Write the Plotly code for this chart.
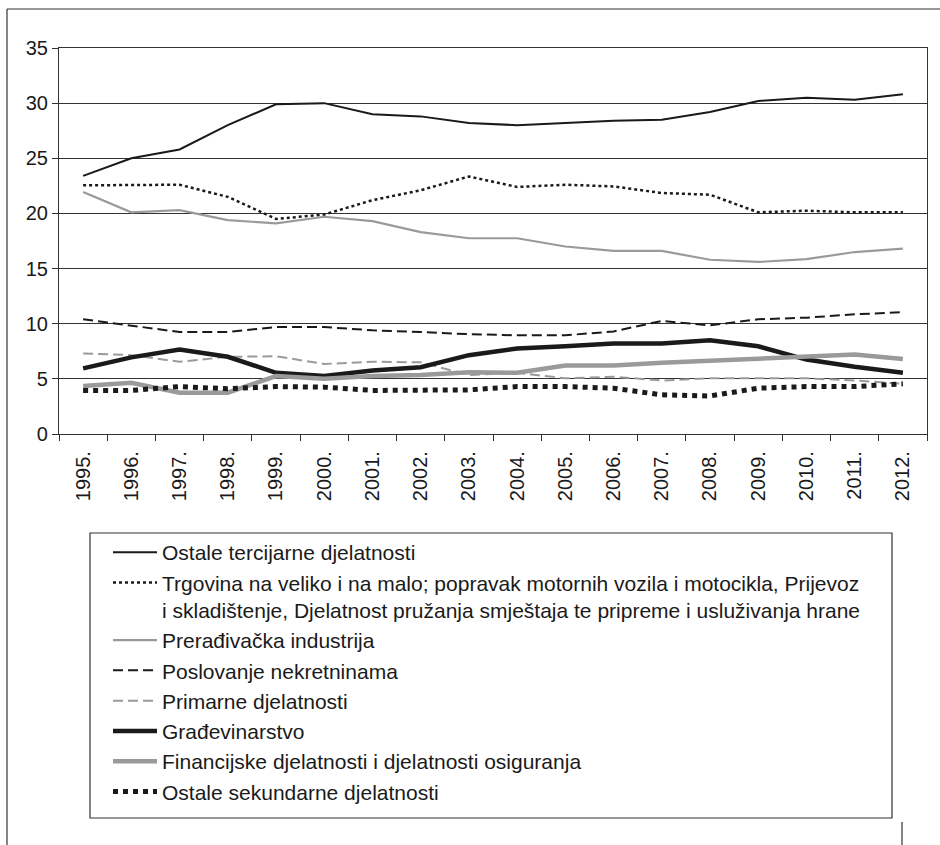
import plotly.graph_objects as go

# Category labels (years)
years = ["1995.", "1996.", "1997.", "1998.", "1999.", "2000.", "2001.", "2002.", "2003.",
         "2004.", "2005.", "2006.", "2007.", "2008.", "2009.", "2010.", "2011.", "2012."]

# Series values (share, %)
ostale_tercijarne = [23.4, 25.0, 25.8, 28.0, 29.9, 30.0, 29.0, 28.8, 28.2, 28.0, 28.2, 28.4,
                     28.5, 29.2, 30.2, 30.5, 30.3, 30.8]
trgovina = [22.55, 22.55, 22.6, 21.5, 19.5, 19.9, 21.2, 22.1, 23.35, 22.4, 22.6, 22.45,
            21.85, 21.7, 20.1, 20.25, 20.1, 20.1]
preradivacka = [21.95, 20.1, 20.3, 19.4, 19.1, 19.7, 19.3, 18.3, 17.75, 17.75, 17.0, 16.6,
                16.6, 15.8, 15.6, 15.85, 16.5, 16.8]
poslovanje = [10.4, 9.85, 9.25, 9.25, 9.7, 9.7, 9.4, 9.25, 9.05, 8.95, 8.95, 9.3,
              10.25, 9.85, 10.4, 10.55, 10.85, 11.05]
primarne = [7.3, 7.15, 6.55, 7.0, 7.05, 6.35, 6.55, 6.5, 5.35, 5.55, 5.05, 5.2,
            4.85, 5.05, 5.05, 5.05, 4.85, 4.55]
gradevinarstvo = [5.95, 6.95, 7.65, 7.0, 5.55, 5.25, 5.75, 6.05, 7.15, 7.75, 7.95, 8.2,
                  8.2, 8.5, 7.95, 6.75, 6.1, 5.55]
financijske = [4.35, 4.65, 3.75, 3.75, 5.25, 5.0, 5.25, 5.35, 5.6, 5.55, 6.2, 6.2,
               6.45, 6.65, 6.85, 7.05, 7.2, 6.8]
ostale_sekundarne = [3.95, 3.95, 4.3, 4.1, 4.3, 4.25, 3.95, 3.95, 4.0, 4.3, 4.3, 4.15,
                     3.55, 3.45, 4.15, 4.3, 4.3, 4.55]

names = [
    "Ostale tercijarne djelatnosti",
    "Trgovina na veliko i na malo; popravak motornih vozila i motocikla, Prijevoz<br>"
    "i skladištenje, Djelatnost pružanja smještaja te pripreme i usluživanja hrane",
    "Prerađivačka industrija",
    "Poslovanje nekretninama",
    "Primarne djelatnosti",
    "Građevinarstvo",
    "Financijske djelatnosti i djelatnosti osiguranja",
    "Ostale sekundarne djelatnosti",
]
series = [ostale_tercijarne, trgovina, preradivacka, poslovanje, primarne,
          gradevinarstvo, financijske, ostale_sekundarne]

BLACK = "#1a1a1a"
GREY = "#9a9a9a"
styles = [
    dict(color=BLACK, width=2, dash="solid"),
    dict(color=BLACK, width=2.5, dash="3px,3px"),
    dict(color=GREY, width=2.2, dash="solid"),
    dict(color=BLACK, width=2, dash="10px,5px"),
    dict(color=GREY, width=2, dash="10px,5px"),
    dict(color=BLACK, width=4.5, dash="solid"),
    dict(color=GREY, width=4.5, dash="solid"),
    dict(color=BLACK, width=5, dash="5px,5px"),
]

fig = go.Figure()
for name, vals, st in zip(names, series, styles):
    fig.add_trace(go.Scatter(x=years, y=vals, name=name, mode="lines", line=st))

W, H = 940, 845
ML, MR, MT, MB = 59, 13, 48, 411
PW, PH = W - ML - MR, H - MT - MB


def px_x(x):
    return (x - ML) / PW


def px_y(y):
    return (H - MB - y) / PH


shapes = [
    # outer frame (top and left)
    dict(type="line", xref="paper", yref="paper", x0=px_x(7), x1=px_x(940),
         y0=px_y(9), y1=px_y(9), line=dict(color="#333", width=1.2)),
    dict(type="line", xref="paper", yref="paper", x0=px_x(7), x1=px_x(7),
         y0=px_y(9), y1=px_y(845), line=dict(color="#333", width=1.2)),
    dict(type="line", xref="paper", yref="paper", x0=px_x(902), x1=px_x(902),
         y0=px_y(822), y1=px_y(845), line=dict(color="#333", width=1.2)),
    # legend box
    dict(type="rect", xref="paper", yref="paper", x0=px_x(90), x1=px_x(892),
         y0=px_y(533), y1=px_y(818), line=dict(color="#333", width=1.2)),
]

fig.update_layout(
    width=W, height=H,
    margin=dict(l=ML, r=MR, t=MT, b=MB, pad=0),
    paper_bgcolor="white", plot_bgcolor="white",
    font=dict(family="Liberation Sans, Arial, sans-serif", color="#1a1a1a", size=20),
    showlegend=True,
    legend=dict(
        x=px_x(108), xanchor="left", y=px_y(532), yanchor="top",
        bgcolor="rgba(0,0,0,0)", borderwidth=0, itemwidth=44,
        font=dict(size=21, family="Liberation Sans, Arial, sans-serif", color="#1a1a1a"),
        valign="top", traceorder="normal",
    ),
    shapes=shapes,
)

fig.update_xaxes(
    type="category", range=[-0.5, len(years) - 0.5], tickson="boundaries",
    ticks="outside", ticklen=6, tickcolor="#333", tickangle=-90,
    tickfont=dict(size=20), ticklabelstandoff=8,
    showline=True, linecolor="#333", linewidth=1.2, mirror=True,
    showgrid=False, zeroline=False,
)
fig.update_yaxes(
    range=[0, 35], dtick=5, ticks="outside", ticklen=6, tickcolor="#333",
    tickfont=dict(size=20), showline=True, linecolor="#333", linewidth=1.2,
    mirror=True, showgrid=True, gridcolor="#333", gridwidth=1.2, zeroline=False,
)

fig.write_html("out.html")
